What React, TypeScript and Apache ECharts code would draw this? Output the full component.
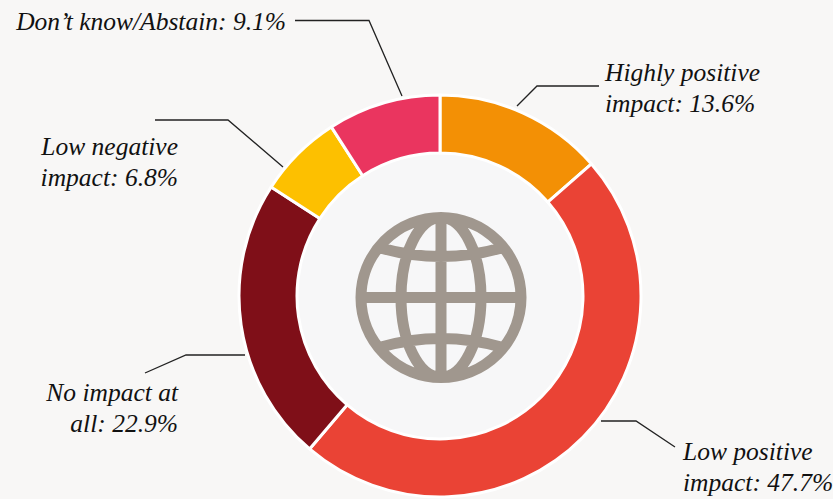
import React, { useEffect, useRef } from "react";
import * as echarts from "echarts";

const categories = ["Highly positive impact", "Low positive impact", "No impact at all", "Low negative impact", "Don’t know/Abstain"];
const values = [13.6, 47.7, 22.9, 6.8, 9.1];
const colors = ["#F39005", "#EA4335", "#7F0F18", "#FDC000", "#EA355F"];
const labelTexts = [
  "Highly positive\nimpact: 13.6%",
  "Low positive\nimpact: 47.7%",
  "No impact at\nall: 22.9%",
  "Low negative\nimpact: 6.8%",
  "Don’t know/Abstain: 9.1%",
];
// Label anchor and leader line for each slice.
const labelSpots = [
  { x: 605, y: 88, align: "left", line: [[517, 106], [537, 86], [599, 86]] },
  { x: 683, y: 467, align: "left", line: [[601, 421], [636, 421], [675, 447]] },
  { x: 178, y: 407.5, align: "right", line: [[245, 355], [186, 355], [145, 373]] },
  { x: 178, y: 162, align: "right", line: [[283, 167], [228, 120], [155, 120]] },
  { x: 286, y: 21, align: "right", line: [[402, 96], [369, 20.5], [295, 20.5]] },
];

// Globe icon: outline, meridian, axes and two parallels, drawn around the origin.
const globePath =
  "M-80 0A80 80 0 1 1 80 0A80 80 0 1 1-80 0Z" +
  "M-40 0A40 80 0 1 1 40 0A40 80 0 1 1-40 0Z" +
  "M0-80L0 80M-80 0L80 0" +
  "M-62-50Q0-32 62-50M-62 50Q0 32 62 50";
echarts.graphic.registerShape("globeIcon", echarts.graphic.extendPath(globePath, {}) as any);

export default function App() {
  const ref = useRef<HTMLDivElement>(null);
  useEffect(() => {
    const chart = echarts.init(ref.current!, undefined, { renderer: "svg" });
    chart.setOption({
      animation: false,
      backgroundColor: "#F8F7F6",
      graphic: [
        { type: "circle", z: 0, shape: { cx: 440, cy: 296, r: 150 }, style: { fill: "#F7F7F8" } },
        {
          type: "globeIcon",
          z: 5,
          x: 441,
          y: 297.5,
          style: { fill: "none", stroke: "#A0978E", lineWidth: 11 },
        },
      ],
      series: [
        {
          type: "pie",
          center: [440, 296],
          radius: [143, 201],
          startAngle: 90,
          clockwise: true,
          avoidLabelOverlap: false,
          itemStyle: { borderColor: "#FFFFFF", borderWidth: 3 },
          data: categories.map((name, i) => ({
            name,
            value: values[i],
            itemStyle: { color: colors[i] },
            label: { formatter: labelTexts[i] },
          })),
          label: {
            show: true,
            position: "outside",
            fontFamily: "Liberation Serif",
            fontStyle: "italic",
            fontSize: 25.5,
            lineHeight: 31,
            color: "#111111",
          },
          labelLine: { show: true, lineStyle: { color: "#222222", width: 1.3 } },
          labelLayout: (params: any) => {
            const spot = labelSpots[params.dataIndex];
            return {
              x: spot.x,
              y: spot.y,
              align: spot.align,
              verticalAlign: "middle",
              labelLinePoints: spot.line,
            };
          },
        },
      ],
    });
    return () => chart.dispose();
  }, []);
  return <div ref={ref} style={{ position: "fixed", left: 0, top: 0, width: 833, height: 499 }} />;
}
